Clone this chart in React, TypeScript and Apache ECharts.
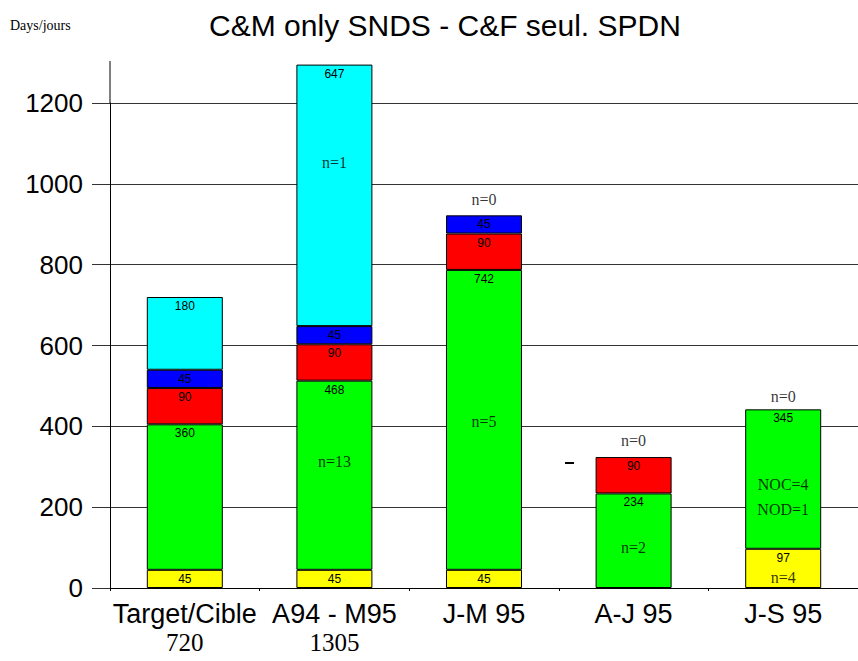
import React, { useEffect, useRef } from "react";
import * as echarts from "echarts";

const categories = ["Target/Cible", "A94 - M95", "J-M 95", "A-J 95", "J-S 95"];
const categoryTotals = ["720", "1305", "", "", ""];
const yellowVals = [45, 45, 45, null, 97];
const greenVals = [360, 468, 742, 234, 345];
const redVals = [90, 90, 90, 90, null];
const blueVals = [45, 45, 45, null, null];
const cyanVals = [180, 647, null, null, null];

// annotations: [category index, value position, text]
const annotations: [number, number, string][] = [
  [1, 1054, "n=1"],
  [1, 312, "n=13"],
  [2, 411, "n=5"],
  [2, 962, "n=0"],
  [3, 99, "n=2"],
  [3, 364, "n=0"],
  [4, 473, "n=0"],
  [4, 255, "NOC=4"],
  [4, 193, "NOD=1"],
  [4, 27, "n=4"],
];

const SANS = "'Liberation Sans', Arial, sans-serif";
const SERIF = "'Liberation Serif', 'Times New Roman', serif";

export default function App() {
  const ref = useRef<HTMLDivElement>(null);
  useEffect(() => {
    if (!ref.current) return;
    const chart = echarts.init(ref.current, null, { renderer: "svg" });
    const mkSeries = (name: string, data: (number | null)[], color: string) => ({
      name,
      type: "bar",
      stack: "total",
      barWidth: 76,
      clip: false,
      data,
      itemStyle: { color, borderColor: "#000", borderWidth: 1 },
      label: {
        show: true,
        position: "insideTop",
        distance: 3,
        color: "#000",
        fontFamily: SANS,
        fontSize: 12,
      },
    });
    chart.setOption({
      animation: false,
      backgroundColor: "#fff",
      title: {
        text: "C&M only SNDS - C&F seul. SPDN",
        left: 440,
        textAlign: "center",
        top: 5,
        textStyle: { fontFamily: SANS, fontSize: 30, fontWeight: "normal", color: "#000" },
      },
      graphic: [
        {
          type: "text",
          left: 10,
          top: 18,
          style: { text: "Days/jours", font: `14px ${SERIF}`, fill: "#000" },
        },
        {
          type: "line",
          shape: { x1: 110, y1: 61, x2: 110, y2: 104 },
          style: { stroke: "#000", lineWidth: 1 },
        },
        {
          type: "line",
          shape: { x1: 565, y1: 463, x2: 574, y2: 463 },
          style: { stroke: "#000", lineWidth: 2 },
        },
      ],
      grid: { left: 110, width: 754, top: 103, bottom: 73, containLabel: false },
      xAxis: {
        type: "category",
        data: categories,
        axisLine: { show: true, lineStyle: { color: "#000", width: 1 } },
        axisTick: { show: true, alignWithLabel: false, length: 3, lineStyle: { color: "#000" } },
        axisLabel: {
          margin: 12,
          interval: 0,
          formatter: (v: string, i: number) =>
            categoryTotals[i] ? `{a|${v}}\n{b|${categoryTotals[i]}}` : `{a|${v}}`,
          rich: {
            a: { fontFamily: SANS, fontSize: 27, color: "#000", lineHeight: 28 },
            b: { fontFamily: SERIF, fontSize: 25, color: "#000", lineHeight: 28 },
          },
        },
      },
      yAxis: {
        type: "value",
        min: 0,
        max: 1200,
        interval: 200,
        axisLine: { show: true, lineStyle: { color: "#000", width: 1 } },
        axisTick: {
          show: true,
          inside: false,
          length: 18,
          lineStyle: { color: "#333" },
        },
        axisLabel: {
          margin: 27,
          color: "#000",
          fontFamily: SANS,
          fontSize: 26,
          formatter: (v: number) => String(v),
        },
        splitLine: {
          show: true,
          lineStyle: { color: "#333", width: 1 },
        },
      },
      series: [
        mkSeries("yellow", yellowVals, "#FFFF00"),
        mkSeries("green", greenVals, "#00FF00"),
        mkSeries("red", redVals, "#FF0000"),
        mkSeries("blue", blueVals, "#0000FF"),
        mkSeries("cyan", cyanVals, "#00FFFF"),
        {
          type: "scatter",
          symbolSize: 0,
          silent: true,
          clip: false,
          z: 10,
          data: annotations.map((a) => ({ value: [a[0], a[1]], name: a[2] })),
          label: {
            show: true,
            position: "inside",
            formatter: (p: any) => p.name,
            color: "#000",
            fontFamily: SERIF,
            fontSize: 16,
          },
        },
      ],
    });
    return () => chart.dispose();
  }, []);
  return (
    <div
      ref={ref}
      style={{ position: "fixed", left: 0, top: 0, width: 858, height: 661 }}
    />
  );
}
